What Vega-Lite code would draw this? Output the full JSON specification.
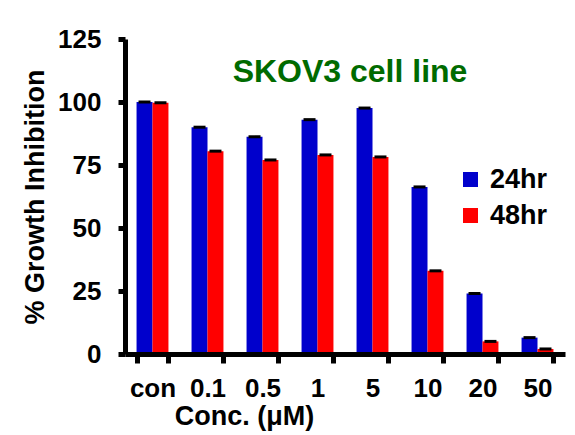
{
  "$schema": "https://vega.github.io/schema/vega-lite/v6.json",
  "width": 440,
  "height": 315,
  "autosize": {"type": "none"},
  "padding": {"left": 125, "top": 39, "right": 10, "bottom": 81},
  "background": "white",
  "title": {
    "text": "SKOV3 cell line",
    "color": "#006b00",
    "font": "Liberation Sans",
    "fontSize": 32,
    "fontWeight": "bold",
    "anchor": "middle",
    "baseline": "alphabetic",
    "offset": -88,
    "dx": 5
  },
  "data": {
    "values": [
      {"conc": "con", "time": "24hr", "value": 100},
      {"conc": "con", "time": "48hr", "value": 99.7},
      {"conc": "0.1", "time": "24hr", "value": 90},
      {"conc": "0.1", "time": "48hr", "value": 80.5},
      {"conc": "0.5", "time": "24hr", "value": 86.2},
      {"conc": "0.5", "time": "48hr", "value": 77},
      {"conc": "1", "time": "24hr", "value": 93},
      {"conc": "1", "time": "48hr", "value": 79},
      {"conc": "5", "time": "24hr", "value": 97.6},
      {"conc": "5", "time": "48hr", "value": 78.2},
      {"conc": "10", "time": "24hr", "value": 66.3},
      {"conc": "10", "time": "48hr", "value": 33},
      {"conc": "20", "time": "24hr", "value": 24},
      {"conc": "20", "time": "48hr", "value": 5},
      {"conc": "50", "time": "24hr", "value": 6.5},
      {"conc": "50", "time": "48hr", "value": 2}
    ]
  },
  "encoding": {
    "x": {
      "field": "conc",
      "type": "nominal",
      "sort": ["con", "0.1", "0.5", "1", "5", "10", "20", "50"],
      "scale": {"paddingInner": 0.42, "paddingOuter": 0.21},
      "axis": {
        "title": "Conc. (μM)",
        "labelAngle": 0,
        "tickBand": "extent",
        "ticks": true,
        "tickSize": 9,
        "tickWidth": 5,
        "domainWidth": 5,
        "domainColor": "black",
        "tickColor": "black",
        "labelPadding": 12,
        "titlePadding": 2,
        "titleX": 119,
        "titleFontSize": 27,
        "zindex": 1
      }
    },
    "xOffset": {"field": "time", "type": "nominal", "sort": ["24hr", "48hr"]},
    "y": {
      "field": "value",
      "type": "quantitative",
      "scale": {"domain": [0, 125], "nice": false},
      "axis": {
        "title": "% Growth Inhibition",
        "values": [0, 25, 50, 75, 100, 125],
        "tickSize": 7,
        "tickWidth": 5,
        "domainWidth": 5,
        "domainColor": "black",
        "tickColor": "black",
        "labelPadding": 17,
        "titlePadding": 8,
        "titleFontSize": 27,
        "zindex": 1
      }
    }
  },
  "layer": [
    {
      "mark": {"type": "bar"},
      "encoding": {
        "color": {
          "field": "time",
          "type": "nominal",
          "scale": {"domain": ["24hr", "48hr"], "range": ["#0000cc", "#ff0000"]},
          "legend": {
            "title": null,
            "orient": "none",
            "legendX": 332,
            "legendY": 127,
            "symbolType": "square",
            "symbolSize": 225,
            "symbolStrokeWidth": 0,
            "symbolOpacity": 1,
            "labelFont": "Liberation Sans",
            "labelFontSize": 27,
            "labelFontWeight": "bold",
            "labelColor": "black",
            "labelOffset": 6,
            "rowPadding": 8,
            "padding": 0
          }
        }
      }
    },
    {
      "mark": {"type": "tick", "color": "black", "thickness": 3, "size": 12, "opacity": 1},
      "encoding": {}
    }
  ],
  "config": {
    "view": {"stroke": null},
    "axis": {
      "grid": false,
      "labelFont": "Liberation Sans",
      "labelFontSize": 26,
      "labelFontWeight": "bold",
      "labelColor": "black",
      "titleFont": "Liberation Sans",
      "titleFontWeight": "bold",
      "titleColor": "black"
    }
  }
}
